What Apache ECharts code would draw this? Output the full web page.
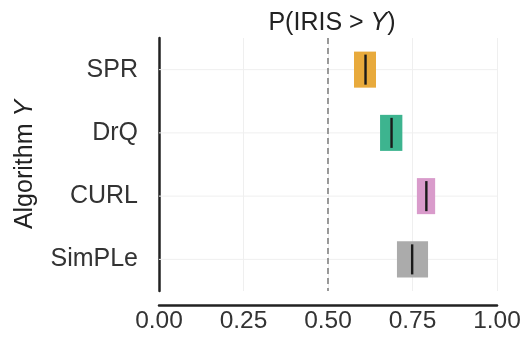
<!DOCTYPE html>
<html><head><meta charset="utf-8">
<script src="https://cdn.jsdelivr.net/npm/echarts@6/dist/echarts.min.js"></script>
<style>html,body{margin:0;padding:0;background:#fff}#c{width:525px;height:337px}</style>
</head><body><div id="c"></div>
<script>
var categories = ['SPR', 'DrQ', 'CURL', 'SimPLe'];
var lowValues = [0.577, 0.654, 0.763, 0.704];
var highValues = [0.642, 0.720, 0.817, 0.796];
var medianValues = [0.611, 0.688, 0.791, 0.749];
var colors = ['#E8AA3C', '#3DB48F', '#D99BCB', '#ABABAB'];
var xTicks = [0, 0.25, 0.5, 0.75, 1];
var refValue = 0.5;

var data = categories.map(function (c, i) {
  return [i, lowValues[i], highValues[i], medianValues[i]];
});

var chart = echarts.init(document.getElementById('c'), null, {renderer: 'canvas'});
var font = 'Liberation Sans, Arial, sans-serif';
chart.setOption({
  animation: false,
  textStyle: {fontFamily: font},
  title: {
    text: '{n|P(IRIS > }{i|Y}{n|)}',
    left: 327, top: 6, textAlign: 'center',
    textStyle: {fontWeight: 'normal', rich: {
      n: {fontSize: 25, color: '#222', fontFamily: font, fontWeight: 'normal'},
      i: {fontSize: 25, color: '#222', fontStyle: 'italic', fontFamily: font, fontWeight: 'normal'}
    }}
  },
  grid: {left: 159, right: 28, top: 38, bottom: 46},
  xAxis: {
    type: 'value', min: 0, max: 1, interval: 0.25,
    offset: 14,
    axisLine: {show: true, lineStyle: {color: '#222', width: 2.5}},
    axisTick: {show: false},
    axisLabel: {fontSize: 24.5, color: '#333', fontFamily: font, margin: 4,
      formatter: function (v) { return v.toFixed(2); }},
    splitLine: {show: true, lineStyle: {color: '#efefef', width: 1}}
  },
  yAxis: {
    type: 'category', data: categories, inverse: true,
    offset: 15,
    axisLine: {show: true, lineStyle: {color: '#222', width: 2.5}},
    axisTick: {show: false},
    axisLabel: {fontSize: 25, color: '#333', fontFamily: font, margin: 6},
    splitLine: {show: false},
    name: '{n|Algorithm }{i|Y}',
    nameLocation: 'middle', nameRotate: 90, nameGap: 106,
    nameTextStyle: {rich: {
      n: {fontSize: 25, color: '#222', fontFamily: font},
      i: {fontSize: 25, color: '#222', fontStyle: 'italic', fontFamily: font}
    }}
  },
  series: [{
    type: 'custom',
    data: data,
    encode: {x: [1, 2, 3], y: 0},
    renderItem: function (params, api) {
      var ci = api.value(0);
      var lo = api.coord([api.value(1), ci]);
      var hi = api.coord([api.value(2), ci]);
      var md = api.coord([api.value(3), ci]);
      var bw = api.size([0, 1])[1];
      var h = bw * 0.57;
      var c = colors[ci];
      return {
        type: 'group',
        children: [
          {type: 'rect', shape: {x: lo[0], y: lo[1] - h / 2, width: hi[0] - lo[0], height: h},
            style: {fill: c}},
          {type: 'line', shape: {x1: md[0], y1: md[1] - h / 2 + 3, x2: md[0], y2: md[1] + h / 2 - 3},
            style: {stroke: '#1a1a1a', lineWidth: 2.4}}
        ]
      };
    },
    markLine: {
      silent: true, symbol: 'none', label: {show: false},
      lineStyle: {color: '#999', type: [6, 4], width: 2},
      data: [{xAxis: refValue}]
    },
    z: 3
  }, {
    type: 'custom',
    data: categories.map(function (c, i) { return [i]; }),
    encode: {y: 0},
    renderItem: function (params, api) {
      var ci = api.value(0);
      var p0 = api.coord([0, ci]);
      var p1 = api.coord([1, ci]);
      return {type: 'line', shape: {x1: p0[0], y1: p0[1], x2: p1[0], y2: p1[1]},
        style: {stroke: '#efefef', lineWidth: 1}};
    },
    z: 1
  }]
});
</script></body></html>
